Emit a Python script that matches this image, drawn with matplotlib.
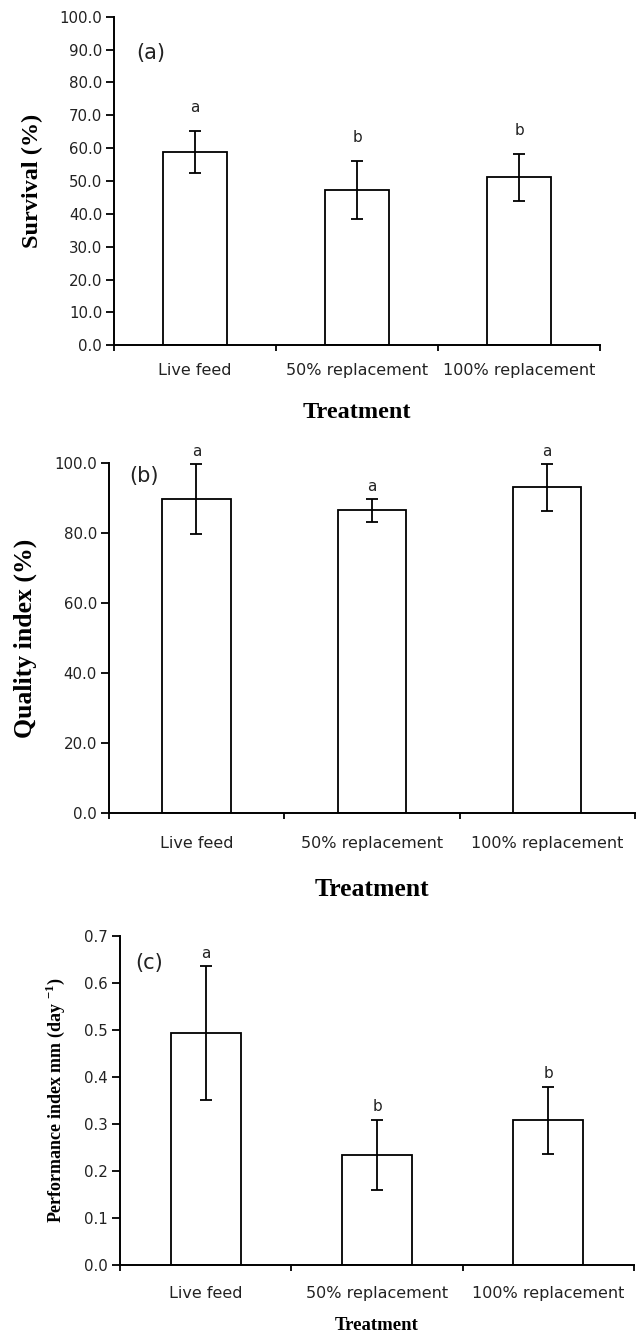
import numpy as np
import matplotlib
matplotlib.use("Agg")
import matplotlib.pyplot as plt

categories = ["Live feed", "50% replacement", "100% replacement"]

survival = [58.8, 47.2, 51.1]
survival_err = [6.3, 8.9, 7.1]
survival_letters = ["a", "b", "b"]

quality = [89.9, 86.6, 93.2]
quality_err = [10.0, 3.3, 6.7]
quality_letters = ["a", "a", "a"]

performance = [0.493, 0.234, 0.308]
performance_err = [0.142, 0.075, 0.071]
performance_letters = ["a", "b", "b"]

W, H = 640, 1337
fig = plt.figure(figsize=(W / 100, H / 100), dpi=100)

plt.rcParams["mathtext.fontset"] = "custom"
plt.rcParams["mathtext.rm"] = "Liberation Serif:bold"


def frac(left, right, top, bottom):
    return [left / W, 1 - bottom / H, (right - left) / W, (bottom - top) / H]


panels = [
    dict(rect=frac(114, 600, 16.7, 345.3), vals=survival, err=survival_err, letters=survival_letters,
         ylim=(0, 100), yticks=np.arange(0, 100.1, 10), fmt="{:.1f}", tag="(a)", tag_x=0.14, tag_y=89,
         ylabel="Survival (%)", ylab_size=17.5, ylab_x=-0.146, xlab_size=17.5, xlab_pad=17, tick_pad=13,
         letter_off=5.0, bw=0.40),
    dict(rect=frac(108.6, 635, 463.3, 813.3), vals=quality, err=quality_err, letters=quality_letters,
         ylim=(0, 100), yticks=np.arange(0, 100.1, 20), fmt="{:.1f}", tag="(b)", tag_x=0.115, tag_y=96.5,
         ylabel="Quality index (%)", ylab_size=18.5, ylab_x=-0.136, xlab_size=18.5, xlab_pad=20, tick_pad=16,
         letter_off=1.2, bw=0.39),
    dict(rect=frac(120, 634, 935.7, 1265), vals=performance, err=performance_err, letters=performance_letters,
         ylim=(0, 0.7), yticks=np.arange(0, 0.71, 0.1), fmt="{:.1f}", tag="(c)", tag_x=0.088, tag_y=0.642,
         ylabel=r"Performance index mm (day $^{-1}$)", ylab_size=13, ylab_x=-0.104, xlab_size=13.5, xlab_pad=12,
         tick_pad=15, letter_off=0.012, bw=0.41),
]

for p in panels:
    ax = fig.add_axes(p["rect"])
    x = np.arange(len(categories)) + 0.5
    ax.bar(x, p["vals"], width=p["bw"], color="white", edgecolor="black", linewidth=1.3,
           yerr=p["err"], capsize=4.5, error_kw=dict(ecolor="black", elinewidth=1.3, capthick=1.3),
           zorder=2)
    ax.set_xlim(0, len(categories))
    ax.set_ylim(*p["ylim"])
    ax.spines["top"].set_visible(False)
    ax.spines["right"].set_visible(False)
    for s in ("left", "bottom"):
        ax.spines[s].set_linewidth(1.4)
    ax.set_xticks(np.arange(len(categories) + 1))
    ax.set_xticklabels([])
    ax.set_xticks(x, minor=True)
    ax.set_xticklabels(categories, minor=True, fontsize=11.5, family="DejaVu Sans", color="#222222")
    ax.tick_params(axis="x", which="major", direction="out", length=4, width=1.3)
    ax.tick_params(axis="x", which="minor", length=0, pad=p["tick_pad"])
    ax.set_yticks(p["yticks"])
    ax.set_yticklabels([p["fmt"].format(v) for v in p["yticks"]], fontsize=10.8, family="DejaVu Sans",
                       color="#222222")
    ax.tick_params(axis="y", direction="out", length=5.5, width=1.3, pad=3)
    ax.set_xlabel("Treatment", fontsize=p["xlab_size"], fontweight="bold", family="Liberation Serif",
                  labelpad=p["xlab_pad"])
    ax.set_ylabel(p["ylabel"], fontsize=p["ylab_size"], fontweight="bold", family="Liberation Serif")
    ax.yaxis.set_label_coords(p["ylab_x"], 0.5)
    for xi, v, e, l in zip(x, p["vals"], p["err"], p["letters"]):
        ax.text(xi, v + e + p["letter_off"], l, ha="center", va="bottom", fontsize=11,
                family="DejaVu Sans", color="#222222", clip_on=False)
    ax.text(p["tag_x"], p["tag_y"], p["tag"], fontsize=15, family="DejaVu Sans", ha="left", va="center",
            color="#222222")

fig.savefig("out.png", dpi=100)
